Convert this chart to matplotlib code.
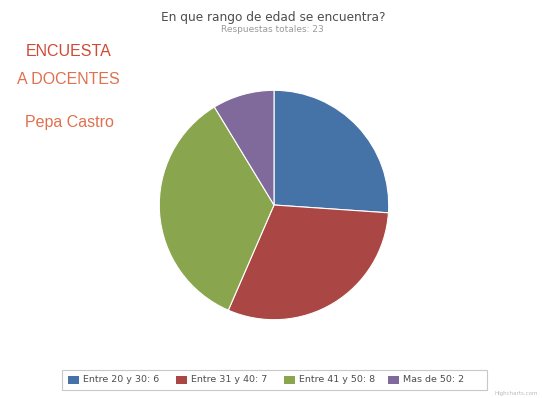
import matplotlib
matplotlib.use("Agg")
import matplotlib.pyplot as plt
from matplotlib.patches import Rectangle

# Survey data
categories = ["Entre 20 y 30", "Entre 31 y 40", "Entre 41 y 50", "Mas de 50"]
counts = [6, 7, 8, 2]
colors = ["#4572A7", "#AA4643", "#89A54E", "#80699B"]

title = "En que rango de edad se encuentra?"
subtitle = "Respuestas totales: 23"

W, H = 542, 398
fig = plt.figure(figsize=(W / 100, H / 100), dpi=100)
fig.patch.set_facecolor("white")

# Pie axes, placed in pixel terms (center ~ (274, 205), radius ~117)
cx, cy, r = 274, 205, 117
ax = fig.add_axes([(cx - r) / W, (H - cy - r) / H, 2 * r / W, 2 * r / H])
ax.pie(counts, colors=colors, startangle=90, counterclock=False, radius=1,
       wedgeprops=dict(edgecolor="white", linewidth=0.8))
ax.set_xlim(-1.02, 1.02)
ax.set_ylim(-1.02, 1.02)
ax.set_aspect("equal")
ax.axis("off")

# Titles
fig.text(273 / W, 1 - 17 / H, title, ha="center", va="center",
         fontsize=8.7, color="#4d4d4d", family="DejaVu Sans")
fig.text(272 / W, 1 - 30 / H, subtitle, ha="center", va="center",
         fontsize=6.5, color="#9a9a9a", family="DejaVu Sans")

# Side labels
fig.text(69 / W, 1 - 52 / H, "ENCUESTA", ha="center", va="center",
         fontsize=11.5, color="#cf4a35", family="Liberation Sans")
fig.text(68 / W, 1 - 80 / H, "A DOCENTES", ha="center", va="center",
         fontsize=11.5, color="#e0704e", family="Liberation Sans")
fig.text(69 / W, 1 - 123 / H, "Pepa Castro", ha="center", va="center",
         fontsize=11.5, color="#e0704e", family="Liberation Sans")

# Legend box
lx0, lx1, ly0, ly1 = 62, 487, 370, 390
fig.patches.append(Rectangle((lx0 / W, 1 - ly1 / H), (lx1 - lx0) / W, (ly1 - ly0) / H,
                             transform=fig.transFigure, facecolor="white",
                             edgecolor="#c8c8c8", linewidth=0.8))
item_x = [68, 176, 284, 388]
for x, cat, n, col in zip(item_x, categories, counts, colors):
    fig.patches.append(Rectangle((x / W, 1 - 384 / H), 11 / W, 8 / H,
                                 transform=fig.transFigure, facecolor=col,
                                 edgecolor="none"))
    fig.text((x + 15) / W, 1 - 380 / H, f"{cat}: {n}", ha="left", va="center",
             fontsize=6.8, color="#4d4d4d", family="DejaVu Sans")

fig.text(538 / W, 1 - 394 / H, "Highcharts.com", ha="right", va="center",
         fontsize=4, color="#bbbbbb", family="DejaVu Sans")

fig.savefig("out.png", dpi=100, facecolor="white")
